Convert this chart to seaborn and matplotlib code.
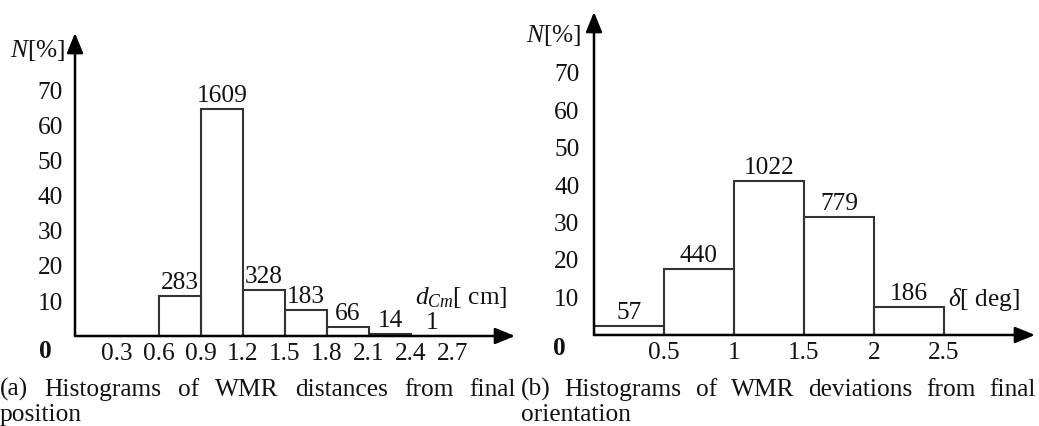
import matplotlib
matplotlib.use("Agg")
import matplotlib.pyplot as plt
import seaborn as sns
import numpy as np

# ---------------- data ----------------
dist_edges = [0.6, 0.9, 1.2, 1.5, 1.8, 2.1, 2.4, 2.7]
dist_pct = [11.4, 64.8, 13.2, 7.4, 2.7, 0.6, 0.04]
dist_counts = [283, 1609, 328, 183, 66, 14, 1]
dist_ticks = [0.3, 0.6, 0.9, 1.2, 1.5, 1.8, 2.1, 2.4, 2.7]
dist_ticklabels = ["0.3", "0.6", "0.9", "1.2", "1.5", "1.8", "2.1", "2.4", "2.7"]

dev_edges = [0, 0.5, 1, 1.5, 2, 2.5]
dev_pct = [2.3, 17.7, 41.1, 31.4, 7.5]
dev_counts = [57, 440, 1022, 779, 186]
dev_ticks = [0.5, 1, 1.5, 2, 2.5]
dev_ticklabels = ["0.5", "1", "1.5", "2", "2.5"]

y_ticks = [10, 20, 30, 40, 50, 60, 70]
y_ticklabels = ["10", "20", "30", "40", "50", "60", "70"]

caption_a = ["(a) Histograms of WMR distances from final", "position"]
caption_b = ["(b) Histograms of WMR deviations from final", "orientation"]

# ---------------- style ----------------
sns.set_theme(style="white")
plt.rcParams["font.family"] = ["Liberation Serif", "DejaVu Serif"]
plt.rcParams["mathtext.fontset"] = "custom"
plt.rcParams["mathtext.rm"] = "Liberation Serif"
plt.rcParams["mathtext.it"] = "Liberation Serif:italic"
plt.rcParams["mathtext.bf"] = "Liberation Serif:bold"

W, H = 1039, 426
FS = 18.3
TXT = "#111111"
fig = plt.figure(figsize=(W / 100, H / 100), dpi=100)
fig.patch.set_facecolor("white")

BAR_COL = "#333333"


def px_axes(x0, y0, x1, y1):
    # pixel coords (top-left origin) -> figure fraction axes
    return fig.add_axes([x0 / W, (H - y1) / H, (x1 - x0) / W, (y1 - y0) / H])


def style_axes(ax, xmax, ymax, xticks, xlabels, ypad):
    ax.set_xlim(0, xmax)
    ax.set_ylim(0, ymax)
    for s in ax.spines.values():
        s.set_visible(False)
    ax.set_facecolor("none")
    ax.set_xticks(xticks)
    ax.set_xticklabels(xlabels, fontsize=FS)
    ax.set_yticks(y_ticks)
    ax.set_yticklabels(y_ticklabels, fontsize=FS)
    ax.tick_params(axis="both", direction="in", length=4, width=1.5, color="black",
                   labelcolor=TXT)
    ax.tick_params(axis="y", pad=ypad)
    ax.tick_params(axis="x", pad=5)
    ax.set_xlabel("")
    ax.set_ylabel("")
    ax.grid(False)
    arrow = dict(arrowstyle="-|>,head_length=1.1,head_width=0.45", color="black",
                 lw=1.8, mutation_scale=11, shrinkA=0, shrinkB=0)
    ax.annotate("", xy=(1, 0), xytext=(0, 0), xycoords="axes fraction",
                textcoords="axes fraction", arrowprops=arrow, annotation_clip=False)
    ax.annotate("", xy=(0, 1), xytext=(0, 0), xycoords="axes fraction",
                textcoords="axes fraction", arrowprops=arrow, annotation_clip=False)


def draw_hist(ax, edges, pct, counts):
    centers = [(a + b) / 2 for a, b in zip(edges[:-1], edges[1:])]
    sns.histplot(x=centers, weights=pct, bins=edges, fill=False, color=BAR_COL,
                 linewidth=1.5, ax=ax)
    for c, p, n in zip(centers, pct, counts):
        ax.annotate(str(n), xy=(c, p), xytext=(0, 5), textcoords="offset points",
                    ha="center", va="baseline", fontsize=FS, color=TXT)


# ---------------- left panel ----------------
ax1 = px_axes(75, 33, 515, 336)
draw_hist(ax1, dist_edges, dist_pct, dist_counts)
style_axes(ax1, 440 / 140, 303 / 3.5, dist_ticks, dist_ticklabels, ypad=8.5)
ax1.text(-0.0227, 0.922, r"$N$[%]", transform=ax1.transAxes, ha="right",
         va="baseline", fontsize=FS, color=TXT)
ax1.text(0.982, 0.105, r"$d_{Cm}$[ cm]", transform=ax1.transAxes, ha="right",
         va="baseline", fontsize=FS, color=TXT)
ax1.annotate("0", xy=(0, 0), xycoords="axes fraction", xytext=(-21.6, -11.5),
             textcoords="offset points", ha="center", va="center", fontsize=FS,
             fontweight="bold", color=TXT, annotation_clip=False)

# ---------------- right panel ----------------
ax2 = px_axes(594, 12, 1035, 335)
draw_hist(ax2, dev_edges, dev_pct, dev_counts)
style_axes(ax2, 441 / 140, 323 / 3.75, dev_ticks, dev_ticklabels, ypad=10.5)
ax2.text(-0.028, 0.908, r"$N$[%]", transform=ax2.transAxes, ha="right",
         va="baseline", fontsize=FS, color=TXT)
ax2.text(0.966, 0.0898, r"$\delta$[ deg]", transform=ax2.transAxes, ha="right",
         va="baseline", fontsize=FS, color=TXT)
ax2.annotate("0", xy=(0, 0), xycoords="axes fraction", xytext=(-25.2, -9.4),
             textcoords="offset points", ha="center", va="center", fontsize=FS,
             fontweight="bold", color=TXT, annotation_clip=False)

# ---------------- captions (justified first line) ----------------
renderer = fig.canvas.get_renderer()


def justified(line, x0, x1, ybase):
    words = line.split()
    texts = [fig.text(0, 0, w, fontsize=FS, color=TXT, va="baseline")
             for w in words]
    widths = [t.get_window_extent(renderer).width for t in texts]
    gap = (x1 - x0 - sum(widths)) / (len(words) - 1)
    x = x0
    for t, w in zip(texts, widths):
        t.set_position((x / W, (H - ybase) / H))
        x += w + gap


def plain(line, x0, ybase):
    fig.text(x0 / W, (H - ybase) / H, line, fontsize=FS, color=TXT,
             va="baseline")


justified(caption_a[0], 0, 516, 396)
plain(caption_a[1], 0, 421)
justified(caption_b[0], 521, 1036, 396)
plain(caption_b[1], 521, 421)

fig.savefig("out.png", dpi=100)
